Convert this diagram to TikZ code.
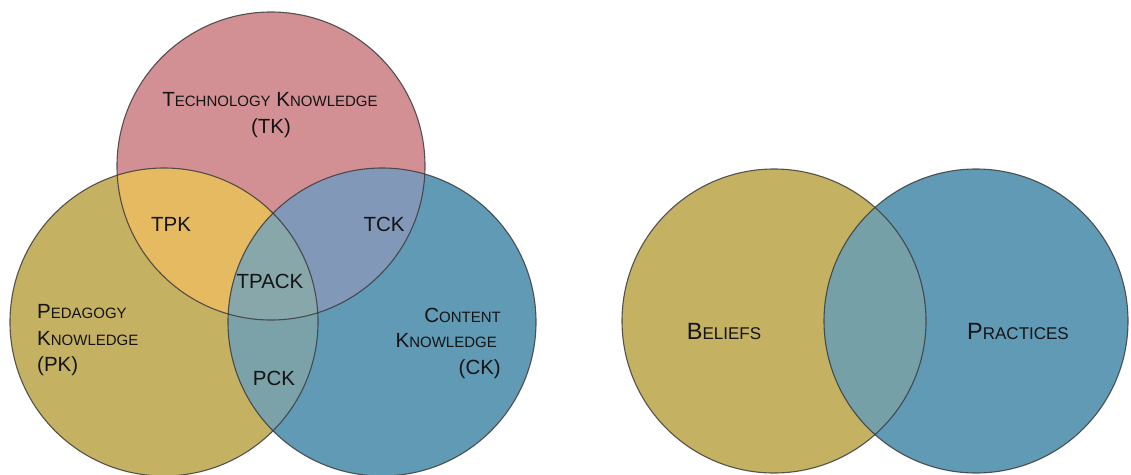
\documentclass[tikz,border=0pt]{standalone}
\usepackage{fontspec}
\setmainfont{Liberation Sans}
\definecolor{tkcol}{HTML}{D39094}
\definecolor{pkcol}{HTML}{C4B162}
\definecolor{ckcol}{HTML}{609AB5}
\definecolor{tpkcol}{HTML}{E6BA60}
\definecolor{tckcol}{HTML}{8198B9}
\definecolor{pckcol}{HTML}{7BA2A8}
\definecolor{tpackcol}{HTML}{87A7AB}
\definecolor{bpcol}{HTML}{75A0A8}
\definecolor{edge}{HTML}{3C3C3C}
% small-caps imitation: full-size initial, smaller capitals after it
\newcommand\smallcapsword[2]{#1{\fontsize{15}{18}\selectfont#2}}
\newcommand\bigsmallcapsword[2]{{\fontsize{23.5}{28}\selectfont#1}{\fontsize{17}{20}\selectfont#2}}
\begin{document}
\begin{tikzpicture}[x=1pt,y=-1pt,
  lbl/.style={inner sep=0pt, anchor=base, text=black!92, font=\fontsize{20.5}{24}\selectfont},
  ring/.style={draw=edge, line width=1.1pt, draw opacity=0.85},
]
\useasboundingbox (0,0) rectangle (1131,474);
\fill[white] (0,0) rectangle (1131,474);

% circle centres
\coordinate (TK) at (271,166);
\coordinate (PK) at (164,322);
\coordinate (CK) at (382,322);
\coordinate (BE) at (774,321);
\coordinate (PR) at (976,321);
\def\rad{154}
\def\radb{152}

% base fills
\fill[pkcol] (PK) circle (\rad);
\fill[ckcol] (CK) circle (\rad);
\fill[tkcol] (TK) circle (\rad);

% pairwise overlaps
\begin{scope}
  \clip (TK) circle (\rad);
  \fill[tpkcol] (PK) circle (\rad);
  \fill[tckcol] (CK) circle (\rad);
\end{scope}
\begin{scope}
  \clip (PK) circle (\rad);
  \fill[pckcol] (CK) circle (\rad);
\end{scope}
% triple overlap
\begin{scope}
  \clip (TK) circle (\rad);
  \clip (PK) circle (\rad);
  \fill[tpackcol] (CK) circle (\rad);
\end{scope}

\draw[ring] (TK) circle (\rad);
\draw[ring] (PK) circle (\rad);
\draw[ring] (CK) circle (\rad);

% beliefs and practices
\fill[pkcol] (BE) circle (\radb);
\fill[ckcol] (PR) circle (\radb);
\begin{scope}
  \clip (BE) circle (\radb);
  \fill[bpcol] (PR) circle (\radb);
\end{scope}
\draw[ring] (BE) circle (\radb);
\draw[ring] (PR) circle (\radb);

% labels
\node[lbl] (tk1) at (270,106) {\smallcapsword{T}{ECHNOLOGY} \smallcapsword{K}{NOWLEDGE}};
\node[lbl] (tk2) at (271,133) {(TK)};
\node[lbl] (tpk) at (171,231) {TPK};
\node[lbl] (tck) at (384,231) {TCK};
\node[lbl] (tpack) at (270,288) {TPACK};
\node[lbl] (pck) at (274,385) {PCK};
\node[lbl, anchor=base west] (pk1) at (37,318) {\smallcapsword{P}{EDAGOGY}};
\node[lbl, anchor=base west] (pk2) at (37,345) {\smallcapsword{K}{NOWLEDGE}};
\node[lbl, anchor=base west] (pk3) at (37,371) {(PK)};
\node[lbl, anchor=base east] (ck1) at (501,322) {\smallcapsword{C}{ONTENT}};
\node[lbl, anchor=base east] (ck2) at (497,347) {\smallcapsword{K}{NOWLEDGE}};
\node[lbl, anchor=base east] (ck3) at (501,374) {(CK)};
\node[lbl] (bel) at (724,339) {\bigsmallcapsword{B}{ELIEFS}};
\node[lbl] (pra) at (1018,339) {\bigsmallcapsword{P}{RACTICES}};
\end{tikzpicture}
\end{document}
